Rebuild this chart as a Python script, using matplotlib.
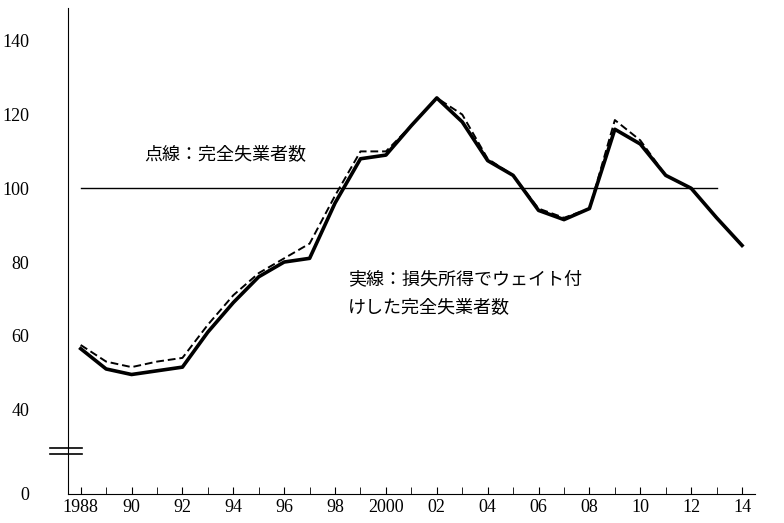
import matplotlib.pyplot as plt
import numpy as np

years = np.arange(1988, 2015)
solid = [56.5, 51, 49.5, 50.5, 51.5, 61, 69, 76, 80, 81, 96, 108, 109, 117, 124.5,
         118, 107.5, 103.5, 94, 91.5, 94.5, 116, 112, 103.5, 100, 92, 84.5]
dashed = [57.5, 53, 51.5, 53, 54, 63, 71, 77, 81, 85, 98, 110, 110, 117, 124.5,
          120, 108, 103.5, 94.5, 92, 94.5, 118.5, 113, 103.5, 100, 92, 84.5]
xlabels = ['1988', '90', '92', '94', '96', '98', '2000', '02', '04', '06', '08', '10', '12', '14']
ylabels = ['0', '40', '60', '80', '100', '120', '140']

fig = plt.figure(figsize=(7.84, 5.23), dpi=100)
ax = fig.add_axes([0.0867, 0.0555, 0.876, 0.93])
ymin = 17.1
ax.plot(years, solid, color='black', lw=2.6)
ax.plot(years, dashed, color='black', lw=1.4, ls=(0, (4, 2)))
ax.plot([1988, 2013], [100, 100], color='black', lw=1)

ax.set_xlim(1987.5, 2014.5)
ax.set_ylim(ymin, 149)
ax.set_xticks(np.arange(1988, 2015, 2))
ax.set_xticks(years, minor=True)
ax.set_xticklabels(xlabels, family='Liberation Serif', fontsize=13)
ax.set_yticks([ymin, 40, 60, 80, 100, 120, 140])
ax.set_yticklabels(ylabels, family='Liberation Serif', fontsize=13)
ax.tick_params(axis='y', length=0, pad=28)
ax.tick_params(axis='x', which='both', direction='in', length=5)
for s in ['top', 'right']:
    ax.spines[s].set_visible(False)

# axis break marks
for yb in [28.0, 29.6]:
    ax.plot([-0.026, 0.02], [yb, yb], transform=ax.get_yaxis_transform(),
            color='black', lw=1.2, clip_on=False)

jp = ['Noto Sans CJK JP', 'DejaVu Sans']
ax.text(1990.5, 108, '点線：完全失業者数', family=jp, fontsize=13)
ax.text(1998.5, 74, '実線：損失所得でウェイト付', family=jp, fontsize=13)
ax.text(1998.5, 66.5, 'けした完全失業者数', family=jp, fontsize=13)

fig.savefig('out.png', dpi=100)
